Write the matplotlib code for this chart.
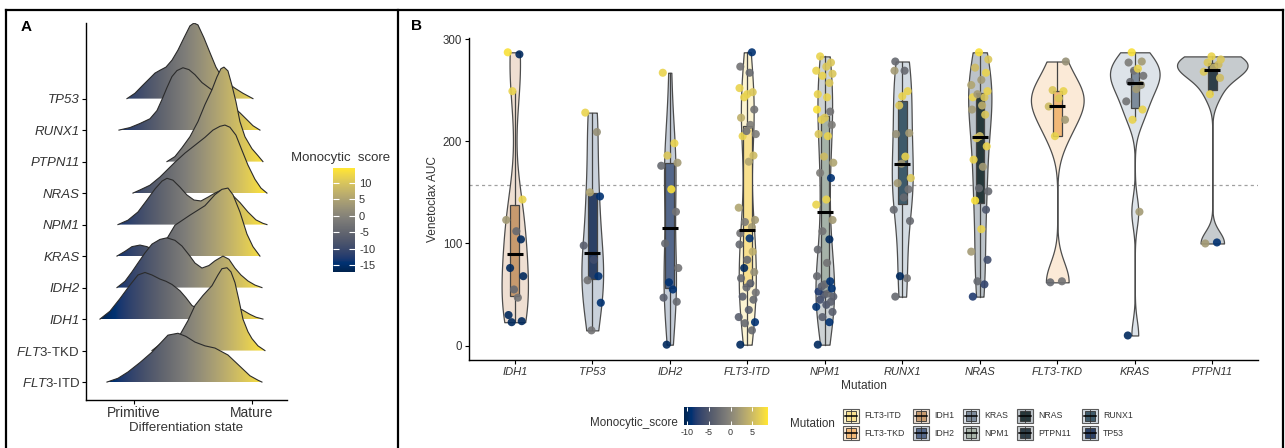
import numpy as np
import matplotlib
matplotlib.use('Agg')
import matplotlib.pyplot as plt
from matplotlib.patches import Polygon, Rectangle
from matplotlib.colors import Normalize
from matplotlib.cm import ScalarMappable

plt.rcParams['font.family'] = ['Liberation Sans', 'DejaVu Sans']
plt.rcParams['mathtext.fontset'] = 'custom'
plt.rcParams['mathtext.rm'] = 'Liberation Sans'
plt.rcParams['mathtext.it'] = 'Liberation Sans:italic'
plt.rcParams['axes.unicode_minus'] = False

# ---------------- Panel A: ridgelines (x = differentiation state, h = ridge height) ----------------
RIDGE_ORDER = ['FLT3-ITD', 'FLT3-TKD', 'IDH1', 'IDH2', 'KRAS',
               'NPM1', 'NRAS', 'PTPN11', 'RUNX1', 'TP53']   # bottom -> top

tp53_x = [2.6, 3.4, 4.2, 4.9, 5.4, 5.9, 6.5, 7.1, 7.7, 8.3, 8.9, 9.3, 9.7, 10.3, 10.9, 11.5, 12.1, 12.7, 13.4, 14.2, 15.2]
tp53_h = [0, .17, .43, .65, .81, .90, 1.0, 1.22, 1.54, 1.93, 2.31, 2.40, 2.34, 1.93, 1.46, 1.0, .68, .49, .33, .17, 0]
runx1_x = [1.8, 2.9, 3.9, 4.9, 5.6, 6.1, 6.6, 7.1, 7.6, 8.2, 8.8, 9.4, 10.1, 10.9, 11.7, 12.5, 13.2, 13.9, 14.6, 15.2, 15.9]
runx1_h = [0, .08, .21, .36, .62, .97, 1.35, 1.70, 1.89, 1.98, 1.92, 1.76, 1.51, 1.32, 1.16, .97, .74, .55, .33, .14, 0]
ptpn11_x = [6.6, 7.4, 8.1, 8.9, 9.7, 10.4, 11.1, 11.6, 12.0, 12.3, 12.7, 13.1, 13.5, 13.9, 14.4, 15.1, 15.7, 16.2]
ptpn11_h = [0, .16, .44, .79, 1.27, 1.81, 2.28, 2.69, 2.95, 3.0, 2.88, 2.42, 1.90, 1.27, .79, .41, .19, 0]
nras_x = [3.2, 3.9, 4.9, 5.9, 6.6, 7.4, 8.4, 9.4, 10.4, 11.2, 11.9, 12.4, 12.9, 13.5, 14.1, 14.7, 15.4, 16.0, 16.6]
nras_h = [0, .10, .25, .51, .73, .98, 1.27, 1.52, 1.77, 2.0, 2.12, 2.16, 2.09, 1.84, 1.36, .89, .44, .16, 0]
npm1_x = [1.7, 2.7, 3.7, 4.6, 5.4, 6.1, 6.6, 7.2, 7.9, 8.6, 9.3, 10.0, 10.7, 11.4, 12.0, 12.5, 13.1, 13.9, 14.7, 15.5, 16.2, 16.6]
npm1_h = [0, .14, .40, .78, 1.13, 1.38, 1.47, 1.41, 1.19, .94, .78, .75, .87, 1.0, 1.09, 1.07, .95, .70, .40, .15, .04, 0]
kras_x = [1.6, 2.4, 3.1, 3.9, 4.6, 5.1, 5.7, 6.4, 7.4, 8.9, 10.4, 11.4, 12.1, 12.7, 13.2, 13.9, 14.6, 15.2, 15.9]
kras_h = [0, .15, .30, .35, .30, .22, .25, .45, .98, 1.30, 1.60, 1.95, 2.12, 2.16, 1.95, 1.40, .70, .30, 0]
idh2_x = [1.6, 2.4, 3.1, 3.7, 4.4, 5.1, 5.9, 6.6, 7.4, 8.1, 8.9, 9.4, 10.1, 10.8, 11.4, 12.2, 12.8, 13.4, 14.0, 14.7, 15.4, 16.1]
idh2_h = [0, .20, .50, .78, 1.10, 1.38, 1.53, 1.58, 1.50, 1.32, 1.0, .78, .62, .70, .85, 1.0, .90, .62, .40, .21, .08, 0]
idh1_x = [-0.1, 0.9, 1.9, 2.9, 3.7, 4.4, 5.1, 5.9, 6.5, 7.1, 7.9, 8.5, 9.1, 9.7, 10.4, 11.4, 12.4, 13.4, 14.1, 14.9, 15.5, 16.2]
idh1_h = [0, .25, .65, 1.08, 1.40, 1.48, 1.40, 1.27, 1.20, 1.10, .90, .68, .43, .33, .27, .25, .30, .35, .30, .15, .06, 0]
flt3tkd_x = [5.1, 5.9, 6.7, 7.4, 7.9, 8.7, 9.4, 10.2, 11.1, 11.7, 12.1, 12.6, 13.0, 13.4, 13.8, 14.2, 14.7, 15.1, 15.7, 16.4]
flt3tkd_h = [0, .20, .30, .38, .50, .95, 1.43, 1.75, 2.06, 2.40, 2.60, 2.63, 2.50, 2.16, 1.60, 1.0, .60, .38, .15, 0]
flt3itd_x = [0.6, 1.7, 2.7, 3.9, 5.1, 5.9, 6.7, 7.7, 8.5, 9.4, 10.4, 11.4, 12.7, 13.4, 14.1, 14.9, 15.7, 16.1]
flt3itd_h = [0, .12, .32, .62, .95, 1.22, 1.49, 1.55, 1.45, 1.27, 1.15, 1.08, .86, .65, .44, .20, .06, 0]

ridges = {
    'TP53': (tp53_x, tp53_h), 'RUNX1': (runx1_x, runx1_h), 'PTPN11': (ptpn11_x, ptpn11_h),
    'NRAS': (nras_x, nras_h), 'NPM1': (npm1_x, npm1_h), 'KRAS': (kras_x, kras_h),
    'IDH2': (idh2_x, idh2_h), 'IDH1': (idh1_x, idh1_h),
    'FLT3-TKD': (flt3tkd_x, flt3tkd_h), 'FLT3-ITD': (flt3itd_x, flt3itd_h),
}
ridge_labels = [r'$\mathit{FLT3}$-ITD', r'$\mathit{FLT3}$-TKD', 'IDH1', 'IDH2', 'KRAS',
                'NPM1', 'NRAS', 'PTPN11', 'RUNX1', 'TP53']
state_ticks = [3.3, 15.1]
state_labels = ['Primitive', 'Mature']
score_range_A = (-17.1, 14.6)

# ---------------- Panel B: venetoclax AUC per mutation ----------------
MUT_ORDER = ['IDH1', 'TP53', 'IDH2', 'FLT3-ITD', 'NPM1', 'RUNX1', 'NRAS', 'FLT3-TKD', 'KRAS', 'PTPN11']

idh1_auc = [287, 285, 249, 143, 123, 112, 104, 76, 68, 55, 47, 30, 24, 23]
idh1_score = [8, -10, 7, 7, 2, -3, -10, -10, -10, -3, -2, -10, -10, -10]
tp53_auc = [228, 209, 150, 146, 98, 84, 68, 64, 42, 15]
tp53_score = [7, 1, 3, -9, -4, -6, -9, -2, -9, -2]
idh2_auc = [267, 198, 186, 179, 176, 153, 131, 100, 76, 62, 55, 47, 43, 1]
idh2_score = [7, 7, 6, 2, -3, 8, -2, -3, -2, -9, -9, -4, -3, -10]
flt3itd_auc = [1, 15, 22, 23, 28, 35, 45, 48, 52, 57, 61, 66, 72, 76, 84, 92, 99, 105, 110,
               116, 121, 123, 135, 180, 186, 205, 207, 210, 216, 223, 231, 243, 246, 248, 252, 267, 273, 287]
flt3itd_score = [-10, -3, -3, -9, -4, -4, -3, -4, -2, -3, -4, -3, 1, -10, -3, 4, -3, -9, -2,
                 2, -1, 2, 3, 3, 5, 7, -1, -2, -1, 4, -2, 7, 7, 6, 7, -3, -2, -9]
npm1_auc = [1, 23, 28, 33, 38, 40, 43, 45, 48, 50, 51, 53, 56, 58, 60, 63, 68, 81, 94, 104, 112, 123,
            138, 143, 164, 169, 179, 185, 205, 207, 216, 221, 223, 229, 231, 243, 246, 257, 264, 266, 269, 273, 277, 283]
npm1_score = [-10, -9, -4, -4, -9, -5, -4, -6, -4, -5, -3, -8, -9, -4, -3, -9, -3, -2, -3, -10, -2, 2,
              7, 7, -9, -1, 3, 5, 7, 6, -1, 7, 6, -2, 8, 7, 7, 6, 7, 6, 7, 6, 6, 7]
runx1_auc = [48, 66, 68, 122, 133, 145, 153, 159, 164, 178, 185, 207, 208, 235, 244, 249, 269, 269, 278]
runx1_score = [-3, -2, -10, -3, -3, -3, -2, 2, 6, 2, 7, 1, 2, 6, 7, 7, 2, -3, -3]
nras_auc = [48, 60, 63, 84, 92, 114, 133, 142, 151, 154, 175, 182, 195, 203, 205, 226, 231, 235,
            243, 243, 246, 249, 255, 260, 267, 272, 280, 287]
nras_score = [-8, -7, -3, -6, 2, 7, -5, 8, -3, -3, 2, 7, 7, 6, 5, 6, 2, 4,
              7, 6, 2, 7, 3, 2, 7, 5, 6, 8]
flt3tkd_auc = [62, 63, 205, 221, 234, 242, 249, 250, 278]
flt3tkd_score = [-3, -2, 7, 2, 5, 6, 7, 6, 1]
kras_auc = [10, 131, 221, 231, 239, 251, 255, 258, 264, 269, 271, 277, 278, 287]
kras_score = [-10, 2, 7, 7, -2, 2, 1, -3, -2, -2, 7, -1, 2, 8]
ptpn11_auc = [100, 101, 246, 262, 268, 272, 275, 277, 280, 283]
ptpn11_score = [2, -9, 7, 5, 6, 4, 5, 6, 6, 7]

auc = {'IDH1': idh1_auc, 'TP53': tp53_auc, 'IDH2': idh2_auc, 'FLT3-ITD': flt3itd_auc,
       'NPM1': npm1_auc, 'RUNX1': runx1_auc, 'NRAS': nras_auc, 'FLT3-TKD': flt3tkd_auc,
       'KRAS': kras_auc, 'PTPN11': ptpn11_auc}
score = {'IDH1': idh1_score, 'TP53': tp53_score, 'IDH2': idh2_score, 'FLT3-ITD': flt3itd_score,
         'NPM1': npm1_score, 'RUNX1': runx1_score, 'NRAS': nras_score, 'FLT3-TKD': flt3tkd_score,
         'KRAS': kras_score, 'PTPN11': ptpn11_score}
auc_threshold = 157
score_range_B = (-10.7, 8.6)

# styles
VIOLIN_FILL = {'IDH1': '#efdfd2', 'TP53': '#c9d1db', 'IDH2': '#c4ccd7', 'FLT3-ITD': '#fcf4d2',
               'NPM1': '#cdd2d4', 'RUNX1': '#d3dbe2', 'NRAS': '#bcc3c9', 'FLT3-TKD': '#fbead7',
               'KRAS': '#dde3e9', 'PTPN11': '#c6cbce'}
BOX_FILL = {'IDH1': '#c79a6e', 'TP53': '#2b4065', 'IDH2': '#54678a', 'FLT3-ITD': '#f8e08e',
            'NPM1': '#a5b2a8', 'RUNX1': '#3e5a6a', 'NRAS': '#26383a', 'FLT3-TKD': '#f2b877',
            'KRAS': '#7d8b9b', 'PTPN11': '#2e3e48'}
VIOLIN_W = {'IDH1': 0.34, 'TP53': 0.28, 'IDH2': 0.16, 'FLT3-ITD': 0.22, 'NPM1': 0.24,
            'RUNX1': 0.27, 'NRAS': 0.30, 'FLT3-TKD': 0.68, 'KRAS': 0.64, 'PTPN11': 0.91}
JITTER = [-0.09, 0.06, -0.03, 0.10, -0.11, 0.02, 0.08, -0.06, 0.11, -0.01,
          0.04, -0.08, 0.09, -0.04, 0.0, 0.07, -0.10, 0.03]
TXT = '#333333'


def nrd0(kde):
    # R's bw.nrd0, expressed as a factor of the sample sd
    d = kde.dataset.ravel()
    sd = d.std(ddof=1)
    q75, q25 = np.percentile(d, [75, 25])
    h = 0.9 * min(sd, (q75 - q25) / 1.34) * len(d) ** -0.2
    return h / sd


fig = plt.figure(figsize=(12.85, 4.48), dpi=100)

# ---------- A ----------
axA = fig.add_axes([0.0669, 0.1071, 0.1564, 0.8415])
grad = np.linspace(0, 1, 512).reshape(1, -1)
gx0 = min(min(v[0]) for v in ridges.values())
gx1 = max(max(v[0]) for v in ridges.values())
for i, name in enumerate(RIDGE_ORDER):
    x = np.array(ridges[name][0])
    top = i + np.array(ridges[name][1])
    verts = np.column_stack([np.r_[x, x[::-1]], np.r_[top, np.full(len(x), float(i))]])
    z = 30 - 2 * i
    poly = Polygon(verts, closed=True, fc='none', ec='none', zorder=z)
    axA.add_patch(poly)
    im = axA.imshow(grad, cmap='cividis', extent=(gx0, gx1, i, top.max()), aspect='auto',
                    origin='lower', zorder=z, interpolation='bilinear')
    im.set_clip_path(poly)
    axA.plot(x, top, color='#2b2b2b', lw=0.8, zorder=z + 1)

axA.set_xlim(-1.5, 18.6)
axA.set_ylim(-0.57, 11.4)
axA.set_yticks(range(len(RIDGE_ORDER)))
axA.set_yticklabels(ridge_labels, fontsize=9.5, color=TXT)
for lab, name in zip(axA.get_yticklabels(), RIDGE_ORDER):
    if not name.startswith('FLT3'):
        lab.set_style('italic')
axA.set_xticks(state_ticks)
axA.set_xticklabels(state_labels, fontsize=10, color=TXT)
axA.set_xlabel('Differentiation state', fontsize=9.5, color=TXT, labelpad=1)
axA.tick_params(length=3, width=0.8, pad=1.5)
for s in ['top', 'right']:
    axA.spines[s].set_visible(False)
for s in ['left', 'bottom']:
    axA.spines[s].set_linewidth(1.0)

caxA = fig.add_axes([0.2591, 0.3929, 0.0171, 0.2321])
cbA = fig.colorbar(ScalarMappable(Normalize(*score_range_A), 'cividis'), cax=caxA)
cbA.outline.set_visible(False)
cbA.set_ticks([-15, -10, -5, 0, 5, 10])
caxA.tick_params(direction='in', color='white', length=4, width=0.8,
                 labelsize=8, labelcolor=TXT, left=True, pad=3)
fig.text(341 / 1285, 1 - 158 / 448, 'Monocytic  score', ha='center', va='center',
         fontsize=9.5, color=TXT)

# ---------- B ----------
axB = fig.add_axes([0.365, 0.1964, 0.614, 0.7188])
pos = np.arange(1, len(MUT_ORDER) + 1)
data = [np.array(auc[m], dtype=float) for m in MUT_ORDER]

axB.axhline(auc_threshold, color='#a0a0a0', lw=0.9, ls=(0, (2.5, 2.5)), zorder=0.5)

vp = axB.violinplot(data, positions=pos, widths=[VIOLIN_W[m] for m in MUT_ORDER],
                    showextrema=False, bw_method=nrd0, points=400)
for body, m in zip(vp['bodies'], MUT_ORDER):
    body.set_facecolor(VIOLIN_FILL[m])
    body.set_edgecolor('#4d4d4d')
    body.set_linewidth(0.9)
    body.set_alpha(1)
    body.set_zorder(1)

bp = axB.boxplot(data, positions=pos, widths=0.11, patch_artist=True, showfliers=False,
                 whis=1.5, manage_ticks=False,
                 medianprops=dict(linewidth=0),
                 capprops=dict(linewidth=0),
                 whiskerprops=dict(color='#444444', linewidth=0.9),
                 boxprops=dict(edgecolor='#444444', linewidth=0.9))
for patch, m in zip(bp['boxes'], MUT_ORDER):
    patch.set_facecolor(BOX_FILL[m])
    patch.set_zorder(2)
for w in bp['whiskers']:
    w.set_zorder(2)

normB = Normalize(*score_range_B)
for p, m in zip(pos, MUT_ORDER):
    y = np.array(auc[m], dtype=float)
    jx = p + np.array([JITTER[k % len(JITTER)] for k in range(len(y))])
    axB.scatter(jx, y, c=score[m], cmap='cividis', norm=normB, s=34, alpha=0.9,
                edgecolors='none', zorder=3)
    med = np.median(y)
    axB.hlines(med, p - 0.105, p + 0.105, color='black', lw=2.2, zorder=4)

axB.set_xlim(0.41, 10.59)
axB.set_ylim(-14, 301)
axB.set_yticks([0, 100, 200, 300])
axB.set_yticklabels(['0', '100', '200', '300'], fontsize=8.3, color=TXT)
axB.set_xticks(pos)
axB.set_xticklabels(MUT_ORDER, fontsize=8, style='italic', color=TXT)
axB.set_ylabel('Venetoclax AUC', fontsize=8.6, color=TXT, labelpad=3)
axB.set_xlabel('Mutation', fontsize=8.6, color=TXT, labelpad=2)
axB.tick_params(length=3, width=0.8, pad=2)
for s in ['top', 'right']:
    axB.spines[s].set_visible(False)
for s in ['left', 'bottom']:
    axB.spines[s].set_linewidth(1.0)

caxB = fig.add_axes([0.5323, 0.0513, 0.0654, 0.0402])
cbB = fig.colorbar(ScalarMappable(normB, 'cividis'), cax=caxB, orientation='horizontal')
cbB.outline.set_visible(False)
cbB.set_ticks([-10, -5, 0, 5])
caxB.tick_params(direction='in', color='white', length=3, width=0.7,
                 labelsize=6.5, labelcolor=TXT, top=True, pad=2)
fig.text(678 / 1285, 1 - 423 / 448, 'Monocytic_score', ha='right', va='center',
         fontsize=8.4, color=TXT)
fig.text(790 / 1285, 1 - 424 / 448, 'Mutation', ha='left', va='center',
         fontsize=8.4, color=TXT)

# ---------- overlay: frames, panel letters, mutation legend ----------
ov = fig.add_axes([0, 0, 1, 1], zorder=10)
ov.set_xlim(0, 1285)
ov.set_ylim(448, 0)
ov.axis('off')
ov.patch.set_visible(False)
frame = dict(color='black', lw=1.6, solid_capstyle='projecting')
ov.plot([6, 6], [448, 10], **frame)
ov.plot([6, 1283], [10, 10], **frame)
ov.plot([398, 398], [10, 448], **frame)
ov.plot([1283, 1283], [10, 448], **frame)
ov.text(26, 27, 'A', fontsize=11, fontweight='bold', ha='center', va='center')
ov.text(417, 26, 'B', fontsize=11, fontweight='bold', ha='center', va='center')

KEY_COL_X = [843, 913, 963, 1017, 1082]
KEY_ROW_Y = [409, 426]
KEY_W, KEY_H = 16, 14
for k, m in enumerate(sorted(MUT_ORDER)):
    cx, cy = KEY_COL_X[k // 2], KEY_ROW_Y[k % 2]
    ov.add_patch(Rectangle((cx, cy), KEY_W, KEY_H, fc=VIOLIN_FILL[m], ec='#5a5a5a', lw=0.8))
    ov.add_patch(Rectangle((cx + KEY_W * 0.18, cy + KEY_H * 0.15), KEY_W * 0.64, KEY_H * 0.7,
                           fc=BOX_FILL[m], ec='#333333', lw=0.6))
    ov.plot([cx + KEY_W / 2] * 2, [cy + 1, cy + KEY_H - 1], color='#333333', lw=0.6)
    ov.plot([cx + KEY_W * 0.12, cx + KEY_W * 0.88], [cy + KEY_H / 2] * 2, color='black', lw=1.1)
    ov.text(cx + KEY_W + 5, cy + KEY_H / 2, m, fontsize=6.3, va='center', color=TXT)

fig.savefig('out.png', dpi=100)
